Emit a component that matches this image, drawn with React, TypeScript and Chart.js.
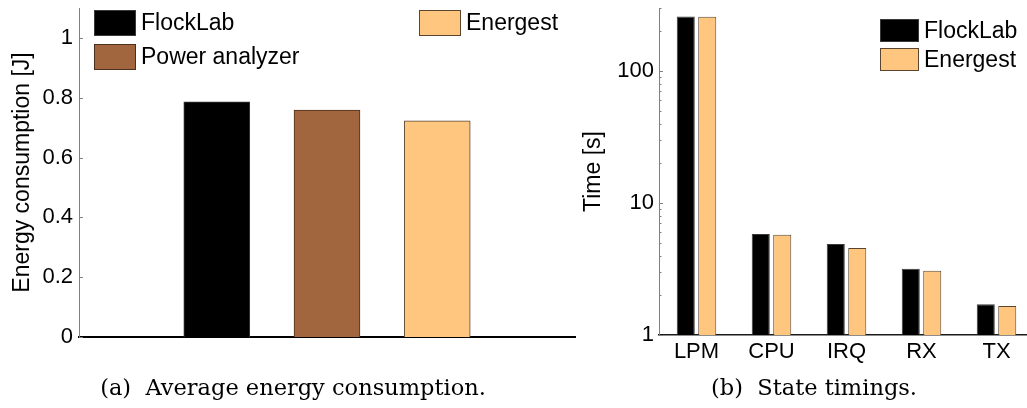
import React, { useEffect, useRef } from "react";
import { Chart, registerables } from "chart.js";

Chart.register(...registerables);

// (a) average energy consumption per measurement source
const energySources = ["FlockLab", "Power analyzer", "Energest"];
const energyJoules = [0.786, 0.759, 0.723];
const energyPositions = [1, 2, 3];
const energyTicks = [0, 0.2, 0.4, 0.6, 0.8, 1];

// (b) time spent in each state
const states = ["LPM", "CPU", "IRQ", "RX", "TX"];
const flocklabTimes = [259, 5.82, 4.89, 3.18, 1.71];
const energestTimes = [257, 5.75, 4.56, 3.07, 1.66];
const timeTicks = [1, 10, 100];
const timeMinorTicks = [2, 3, 4, 5, 6, 7, 8, 9, 20, 30, 40, 50, 60, 70, 80, 90, 200, 300];

const SANS = "'Liberation Sans', Arial, Helvetica, sans-serif";
const BLACK = "#000000";
const BROWN = "#a2663f";
const ORANGE = "#fec67e";
const sourceColors = [BLACK, BROWN, ORANGE];
const sourceEdges = ["#3a3a3a", "#4a2f1c", "#5a4630"];

// short tick marks drawn inside the plot, against the y axis
const inwardTicks = {
  id: "inwardTicks",
  afterDatasetsDraw(chart: any, _args: any, opts: any) {
    const { ctx, chartArea, scales } = chart;
    const y = scales.y;
    ctx.save();
    ctx.strokeStyle = opts.color;
    ctx.lineWidth = 1;
    const draw = (vals: number[], len: number) =>
      vals.forEach((v) => {
        const py = Math.round(y.getPixelForValue(v)) + 0.5;
        ctx.beginPath();
        ctx.moveTo(chartArea.left, py);
        ctx.lineTo(chartArea.left + len, py);
        ctx.stroke();
      });
    draw(opts.major || [], opts.majorLength);
    draw(opts.minor || [], opts.minorLength);
    ctx.restore();
  },
};

// legend with boxes placed freely inside the plot
const boxLegend = {
  id: "boxLegend",
  afterDraw(chart: any, _args: any, opts: any) {
    const { ctx } = chart;
    ctx.save();
    ctx.font = opts.font;
    ctx.textBaseline = "middle";
    ctx.textAlign = "left";
    opts.items.forEach((it: any) => {
      ctx.fillStyle = it.color;
      ctx.fillRect(it.x, it.y, opts.boxWidth, opts.boxHeight);
      ctx.strokeStyle = it.edge;
      ctx.lineWidth = 1;
      ctx.strokeRect(it.x + 0.5, it.y + 0.5, opts.boxWidth - 1, opts.boxHeight - 1);
      ctx.fillStyle = "#000";
      ctx.fillText(it.label, it.x + opts.boxWidth + opts.gap, it.y + opts.boxHeight / 2 + 1);
    });
    ctx.restore();
  },
};

const leftLegendSpots = [
  { x: 94, y: 10 },
  { x: 94, y: 44 },
  { x: 419, y: 10 },
];
const rightLegendSpots = [
  { x: 320, y: 19 },
  { x: 320, y: 48 },
];

const noVerticalPadding = (s: any) => {
  s.paddingTop = 0;
  s.paddingBottom = 0;
};
const noHorizontalPadding = (s: any) => {
  s.paddingLeft = 0;
  s.paddingRight = 0;
};

function EnergyChart() {
  const ref = useRef<HTMLCanvasElement | null>(null);
  useEffect(() => {
    const chart = new Chart(ref.current as HTMLCanvasElement, {
      type: "bar",
      data: {
        datasets: [
          {
            label: "Energy",
            data: energyJoules.map((v, i) => ({ x: energyPositions[i], y: v })) as any,
            backgroundColor: sourceColors,
            borderColor: sourceEdges,
            borderWidth: 1,
            barThickness: 66,
          },
        ],
      },
      plugins: [inwardTicks, boxLegend],
      options: {
        responsive: false,
        animation: false,
        layout: { padding: { top: 8, right: 15, left: 0, bottom: 0 } },
        plugins: {
          legend: { display: false },
          tooltip: { enabled: false },
          inwardTicks: { color: "#808080", major: energyTicks, majorLength: 4, minor: [], minorLength: 0 },
          boxLegend: {
            font: `23px ${SANS}`,
            boxWidth: 42,
            boxHeight: 26,
            gap: 5,
            items: energySources.map((s, i) => ({
              label: s,
              color: sourceColors[i],
              edge: sourceEdges[i],
              ...leftLegendSpots[i],
            })),
          },
        } as any,
        scales: {
          x: {
            type: "linear",
            min: -0.25,
            max: 4.25,
            offset: false,
            z: 1,
            grid: { display: false, drawTicks: false },
            border: { display: true, color: "#000", width: 2 },
            ticks: { display: false },
            afterFit: (s: any) => {
              s.height = 71;
              noHorizontalPadding(s);
            },
          },
          y: {
            min: 0,
            max: 1.1,
            afterBuildTicks: (s: any) => {
              s.ticks = energyTicks.map((v) => ({ value: v }));
            },
            grid: { display: false, drawTicks: false },
            border: { display: true, color: "#808080", width: 1 },
            ticks: {
              color: "#000",
              padding: 6,
              font: { family: SANS, size: 22 },
              callback: (v: any) => String(v),
            },
            title: {
              display: true,
              text: "Energy consumption [J]",
              color: "#000",
              font: { family: SANS, size: 23 },
              padding: { top: 9, bottom: 0 },
            },
            afterFit: (s: any) => {
              s.width = 79;
              noVerticalPadding(s);
            },
          },
        } as any,
      },
    });
    return () => chart.destroy();
  }, []);
  return <canvas ref={ref} width={590} height={408} style={{ display: "block" }} />;
}

function TimingChart() {
  const ref = useRef<HTMLCanvasElement | null>(null);
  useEffect(() => {
    const legendNames = ["FlockLab", "Energest"];
    const legendColors = [BLACK, ORANGE];
    const legendEdges = [sourceEdges[0], sourceEdges[2]];
    const chart = new Chart(ref.current as HTMLCanvasElement, {
      type: "bar",
      data: {
        labels: states,
        datasets: [
          {
            label: "FlockLab",
            data: flocklabTimes,
            backgroundColor: BLACK,
            borderColor: sourceEdges[0],
            borderWidth: 1,
            categoryPercentage: 0.573,
            barPercentage: 0.84,
          },
          {
            label: "Energest",
            data: energestTimes,
            backgroundColor: ORANGE,
            borderColor: sourceEdges[2],
            borderWidth: 1,
            categoryPercentage: 0.573,
            barPercentage: 0.84,
          },
        ],
      },
      plugins: [inwardTicks, boxLegend],
      options: {
        responsive: false,
        animation: false,
        layout: { padding: { top: 8, right: 6, left: 0, bottom: 0 } },
        plugins: {
          legend: { display: false },
          tooltip: { enabled: false },
          inwardTicks: {
            color: "#808080",
            major: timeTicks,
            majorLength: 4,
            minor: timeMinorTicks,
            minorLength: 2.5,
          },
          boxLegend: {
            font: `23px ${SANS}`,
            boxWidth: 39,
            boxHeight: 23,
            gap: 5,
            items: legendNames.map((s, i) => ({
              label: s,
              color: legendColors[i],
              edge: legendEdges[i],
              ...rightLegendSpots[i],
            })),
          },
        } as any,
        scales: {
          x: {
            type: "category",
            offset: true,
            z: 1,
            grid: { display: false, drawTicks: false },
            border: { display: true, color: "#1a1a1a", width: 1.5 },
            ticks: { color: "#000", padding: 4, font: { family: SANS, size: 22 } },
            afterFit: (s: any) => {
              s.height = 73;
              noHorizontalPadding(s);
            },
          },
          y: {
            type: "logarithmic",
            min: 1,
            max: 300,
            afterBuildTicks: (s: any) => {
              s.ticks = timeTicks.map((v) => ({ value: v, major: true }));
            },
            grid: { display: false, drawTicks: false },
            border: { display: true, color: "#808080", width: 1 },
            ticks: {
              color: "#000",
              padding: 5,
              font: { family: SANS, size: 22 },
              callback: (v: any) => String(v),
            },
            title: {
              display: true,
              text: "Time [s]",
              color: "#000",
              font: { family: SANS, size: 23 },
              padding: { top: 20, bottom: 0 },
            },
            afterFit: (s: any) => {
              s.width = 99;
              noVerticalPadding(s);
            },
          },
        } as any,
      },
    });
    return () => chart.destroy();
  }, []);
  return <canvas ref={ref} width={480} height={408} style={{ display: "block" }} />;
}

const captionStyle: React.CSSProperties = {
  position: "absolute",
  top: 374,
  transform: "translateX(-50%)",
  fontFamily: "'DejaVu Serif', 'Liberation Serif', serif",
  fontSize: 22.5,
  lineHeight: "26px",
  whiteSpace: "pre",
  color: "#000",
};

export default function App() {
  return (
    <div
      style={{
        position: "absolute",
        left: 0,
        top: 0,
        width: 1027,
        height: 408,
        overflow: "hidden",
        background: "#fff",
      }}
    >
      <div style={{ position: "absolute", left: 0, top: 0 }}>
        <EnergyChart />
      </div>
      <div style={{ position: "absolute", left: 560, top: 0 }}>
        <TimingChart />
      </div>
      <div style={{ ...captionStyle, left: 293 }}>{"(a)  Average energy consumption."}</div>
      <div style={{ ...captionStyle, left: 814 }}>{"(b)  State timings."}</div>
    </div>
  );
}
